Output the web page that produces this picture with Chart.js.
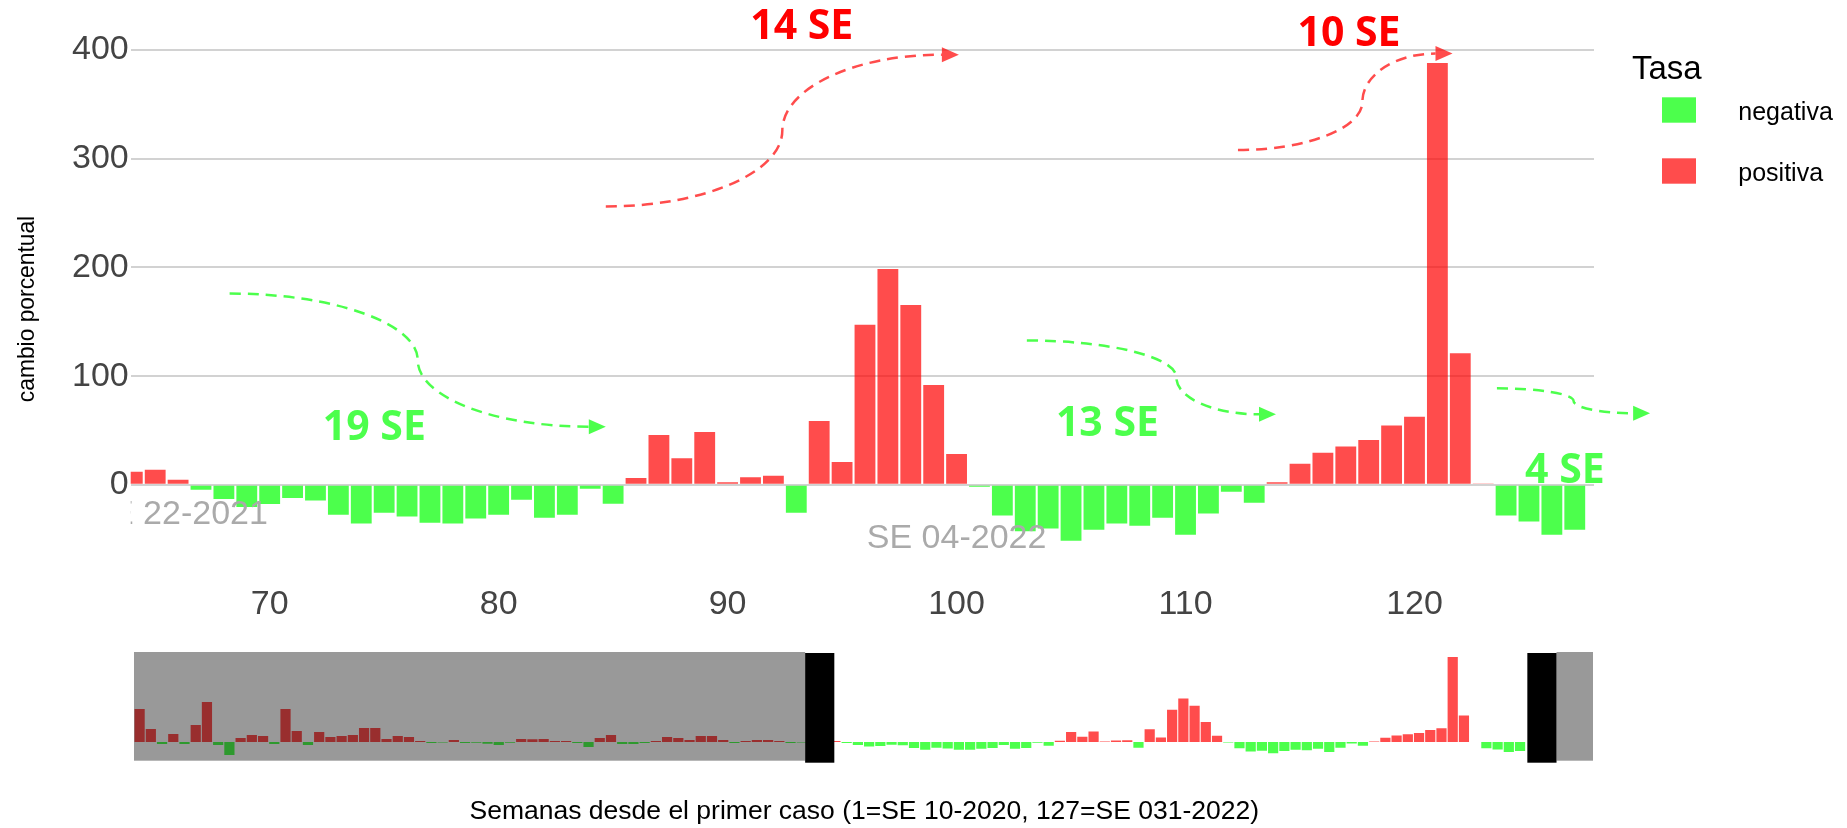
<!DOCTYPE html>
<html>
<head>
<meta charset="utf-8">
<script src="https://cdn.jsdelivr.net/npm/chart.js@4"></script>
<style>
  body { margin: 0; background: #fff; }
  #principal { position: absolute; left: 0; top: 0; }
  #selector { position: absolute; left: 0; top: 640px; }
</style>
</head>
<body>
<canvas id="principal" width="1847" height="640"></canvas>
<canvas id="selector" width="1847" height="188"></canvas>
<script>
// Semanas desde el primer caso y cambio porcentual semanal
const semanas = [
    4, 5, 6, 7, 8, 9, 10, 11, 12, 13, 14, 15, 16, 17, 18, 19, 20, 21, 22, 23,
    24, 25, 26, 27, 28, 29, 30, 31, 32, 33, 34, 35, 36, 37, 38, 39, 40, 41, 42, 43,
    44, 45, 46, 47, 48, 49, 50, 51, 52, 53, 54, 55, 56, 57, 58, 59, 60, 61, 62, 63,
    64, 65, 66, 67, 68, 69, 70, 71, 72, 73, 74, 75, 76, 77, 78, 79, 80, 81, 82, 83,
    84, 85, 86, 87, 88, 89, 90, 91, 92, 93, 94, 95, 96, 97, 98, 99, 100, 101, 102, 103,
    104, 105, 106, 107, 108, 109, 110, 111, 112, 113, 114, 115, 116, 117, 118, 119, 120, 121, 122, 123,
    124, 125, 126, 127
];
const cambio = [
    150.7, 59.4, -9.1, 36.5, -9.1, 77.6, 182.6, -13.7, -59.4, 18.3, 32, 27.4, -9.1, 150.7, 50.2, -13.7, 45.7, 22.8, 27.4, 32,
    63.9, 63.9, 13.7, 27.4, 22.8, 4.6, -4.6, -2, 9.1, -4.6, -3, -7.6, -13.7, -3, 14, 13, 14, 4.6, 4.6, -4.6,
    -22.8, 18.3, 32, -9, -9, -4, 4.6, 22.8, 18.3, 9.1, 27.4, 27.4, 9.1, -4.6, 4.6, 9.1, 9.1, 4.6, -4.6, -2,
    12, 14, 4.6, -4.6, -13, -20.4, -17.6, -12, -14.4, -27.5, -35.6, -25.7, -29.2, -34.9, -35.6, -31, -27.5, -13.7, -30.3, -27.5,
    -3.5, -17.3, 6.3, 45.8, 24.6, 48.6, 2.5, 7.0, 8.5, -25.7, 58.8, 21.1, 147.2, 198.6, 165.5, 91.9, 28.5, -1.8, -28.2, -42.6,
    -40.1, -51.4, -41.2, -35.6, -37.7, -30.3, -45.8, -26.4, -6.3, -16.5, 2.5, 19.4, 29.6, 35.2, 41.2, 54.6, 62.7, 388, 121.1, 0.7,
    -28.2, -33.8, -45.8, -41.2
];
const ticksX = [70, 80, 90, 100, 110, 120];
const ticksY = [0, 100, 200, 300, 400];
const rangoX = [63.93, 127.84];
const rangoY = [-82, 410];
const rangoSelectorX = [3.5, 133.5];
const rangoSelectorY = [-85, 411];

const VERDE = 'rgba(0,255,0,0.7)';
const ROJO = 'rgba(255,0,0,0.7)';
const FUENTE = "'Liberation Sans', Arial, sans-serif";
Chart.defaults.font.family = FUENTE;

const puntos = semanas.map((s, i) => ({ x: s, y: cambio[i] }));
const negativa = puntos.filter(p => p.y < 0);
const positiva = puntos.filter(p => p.y >= 0);

function conjuntos() {
    return [
        { label: 'negativa', data: negativa, backgroundColor: VERDE, borderWidth: 0 },
        { label: 'positiva', data: positiva, backgroundColor: ROJO, borderWidth: 0 }
    ];
}

// etiquetas de texto en unidades de los datos
const etiquetasSE = [
    { texto: '14 SE', x: 93.24, y: 421, color: '#ff0000' },
    { texto: '10 SE', x: 117.14, y: 414.3, color: '#ff0000' },
    { texto: '19 SE', x: 74.57, y: 52.3, color: VERDE },
    { texto: '13 SE', x: 106.59, y: 56.0, color: VERDE },
    { texto: '4 SE', x: 126.57, y: 12.8, color: VERDE }
];
const etiquetasFecha = [
    { texto: 'SE 22-2021', x: 66, y: -27.2 },
    { texto: 'SE 04-2022', x: 100, y: -49.3 }
];
// flechas: inicio, punta, posicion del tramo vertical
const flechas = [
    { x0: 68.25, y0: 176.0, x1: 84.68, y1: 53.5, f: 0.5, color: VERDE },
    { x0: 84.68, y0: 256.1, x1: 100.10, y1: 395.8, f: 0.5, color: ROJO },
    { x0: 103.07, y0: 132.8, x1: 113.95, y1: 64.9, f: 0.6, color: VERDE },
    { x0: 112.29, y0: 308.1, x1: 121.66, y1: 396.8, f: 0.58, color: ROJO },
    { x0: 123.6, y0: 88.8, x1: 130.29, y1: 65.9, f: 0.5, color: VERDE }
];

function dibujarFlecha(ctx, x0, y0, x1, y1, f, color) {
    const k = 0.5523, L = 17;
    const xm = x0 + (x1 - x0) * f, ym = (y0 + y1) / 2;
    const xe = x1 - Math.sign(x1 - x0) * L;
    ctx.save();
    ctx.strokeStyle = color;
    ctx.lineWidth = 2.5;
    ctx.setLineDash([11, 7]);
    ctx.beginPath();
    ctx.moveTo(x0, y0);
    ctx.bezierCurveTo(x0 + k * (xm - x0), y0, xm, ym + k * (y0 - ym), xm, ym);
    ctx.bezierCurveTo(xm, ym + k * (y1 - ym), xe - k * (xe - xm), y1, xe, y1);
    ctx.stroke();
    ctx.setLineDash([]);
    ctx.fillStyle = color;
    ctx.beginPath();
    ctx.moveTo(x1, y1);
    ctx.lineTo(xe, y1 - 7.5);
    ctx.lineTo(xe, y1 + 7.5);
    ctx.closePath();
    ctx.fill();
    ctx.restore();
}

const decoracion = {
    id: 'decoracion',
    afterDatasetsDraw(chart) {
        const { ctx, chartArea: a, scales: { x, y } } = chart;

        ctx.save();
        ctx.beginPath();
        ctx.rect(a.left, a.top, a.right - a.left, a.bottom - a.top);
        ctx.clip();
        ctx.font = '34px ' + FUENTE;
        ctx.fillStyle = '#aaaaaa';
        ctx.textAlign = 'center';
        ctx.textBaseline = 'middle';
        etiquetasFecha.forEach(e => ctx.fillText(e.texto, x.getPixelForValue(e.x), y.getPixelForValue(e.y)));
        ctx.restore();

        flechas.forEach(fl => dibujarFlecha(ctx,
            x.getPixelForValue(fl.x0), y.getPixelForValue(fl.y0),
            x.getPixelForValue(fl.x1), y.getPixelForValue(fl.y1), fl.f, fl.color));

        ctx.save();
        ctx.font = "bold 41px 'Open Sans', sans-serif";
        ctx.textAlign = 'center';
        ctx.textBaseline = 'middle';
        etiquetasSE.forEach(e => {
            ctx.fillStyle = e.color;
            ctx.fillText(e.texto, x.getPixelForValue(e.x), y.getPixelForValue(e.y));
        });
        ctx.restore();

        // titulo del eje y
        ctx.save();
        ctx.translate(27.7, 309);
        ctx.rotate(-Math.PI / 2);
        ctx.scale(0.95, 1);
        ctx.font = '24px ' + FUENTE;
        ctx.fillStyle = '#000';
        ctx.textAlign = 'center';
        ctx.textBaseline = 'middle';
        ctx.fillText('cambio porcentual', 0, 0);
        ctx.restore();

        // leyenda
        ctx.save();
        ctx.fillStyle = '#000';
        ctx.textBaseline = 'alphabetic';
        ctx.font = '33px ' + FUENTE;
        ctx.fillText('Tasa', 1632, 79.3);
        ctx.font = '25px ' + FUENTE;
        chart.data.datasets.forEach((ds, i) => {
            const top = 97.3 + i * 61;
            ctx.fillStyle = ds.backgroundColor;
            ctx.fillRect(1662, top, 34, 25.4);
            ctx.fillStyle = '#000';
            ctx.fillText(ds.label, 1738.3, top + 22.5);
        });
        ctx.restore();
    }
};

new Chart(document.getElementById('principal'), {
    type: 'bar',
    data: { datasets: conjuntos() },
    options: {
        responsive: false,
        animation: false,
        datasets: { bar: { grouped: false, barPercentage: 0.91, categoryPercentage: 1 } },
        layout: { padding: { left: 0, right: 253, top: 39.2, bottom: 0 } },
        plugins: { legend: { display: false }, tooltip: { enabled: false } },
        scales: {
            x: {
                type: 'linear', min: rangoX[0], max: rangoX[1], offset: false,
                grid: { display: false }, border: { display: false },
                afterBuildTicks: s => { s.ticks = ticksX.map(v => ({ value: v })); },
                afterFit: s => { s.height = 66; },
                ticks: { padding: 2, color: '#444', font: { size: 34 }, maxRotation: 0, autoSkip: false }
            },
            y: {
                min: rangoY[0], max: rangoY[1],
                grid: { color: '#d2d2d2', lineWidth: 2, drawTicks: false }, border: { display: false },
                afterBuildTicks: s => { s.ticks = ticksY.map(v => ({ value: v })); },
                afterFit: s => { s.width = 130.7; },
                ticks: { padding: 2, color: '#444', font: { size: 34 } }
            }
        }
    },
    plugins: [decoracion]
});

// selector de rango inferior
const ventana = [63.3, 130.25];
const anchoAsa = 2.6;

const mascara = {
    id: 'mascara',
    afterDatasetsDraw(chart) {
        const { ctx, chartArea: a, scales: { x } } = chart;
        const xi = x.getPixelForValue(ventana[0]);
        const xd = x.getPixelForValue(ventana[1]);
        const asa = x.getPixelForValue(ventana[0] + anchoAsa) - xi;
        const h = a.bottom - a.top;
        ctx.save();
        ctx.fillStyle = 'rgba(0,0,0,0.4)';
        ctx.fillRect(a.left, a.top, xi - a.left, h);
        ctx.fillRect(xd, a.top, a.right - xd, h);
        ctx.fillStyle = '#000';
        ctx.fillRect(xi, a.top + 1, asa, h + 1);
        ctx.fillRect(xd - asa, a.top + 1, asa, h + 1);
        ctx.restore();
    },
    afterDraw(chart) {
        const ctx = chart.ctx;
        ctx.save();
        ctx.font = '26.5px ' + FUENTE;
        ctx.fillStyle = '#000';
        ctx.textAlign = 'center';
        ctx.textBaseline = 'alphabetic';
        ctx.fillText('Semanas desde el primer caso (1=SE 10-2020, 127=SE 031-2022)', 864.3, 179.3);
        ctx.restore();
    }
};

new Chart(document.getElementById('selector'), {
    type: 'bar',
    data: { datasets: conjuntos() },
    options: {
        responsive: false,
        animation: false,
        datasets: { bar: { grouped: false, barPercentage: 0.91, categoryPercentage: 1 } },
        layout: { padding: { left: 134, right: 254, top: 12, bottom: 67.3 } },
        plugins: { legend: { display: false }, tooltip: { enabled: false } },
        scales: {
            x: { type: 'linear', min: rangoSelectorX[0], max: rangoSelectorX[1], offset: false, display: false },
            y: { min: rangoSelectorY[0], max: rangoSelectorY[1], display: false }
        }
    },
    plugins: [mascara]
});
</script>
</body>
</html>
